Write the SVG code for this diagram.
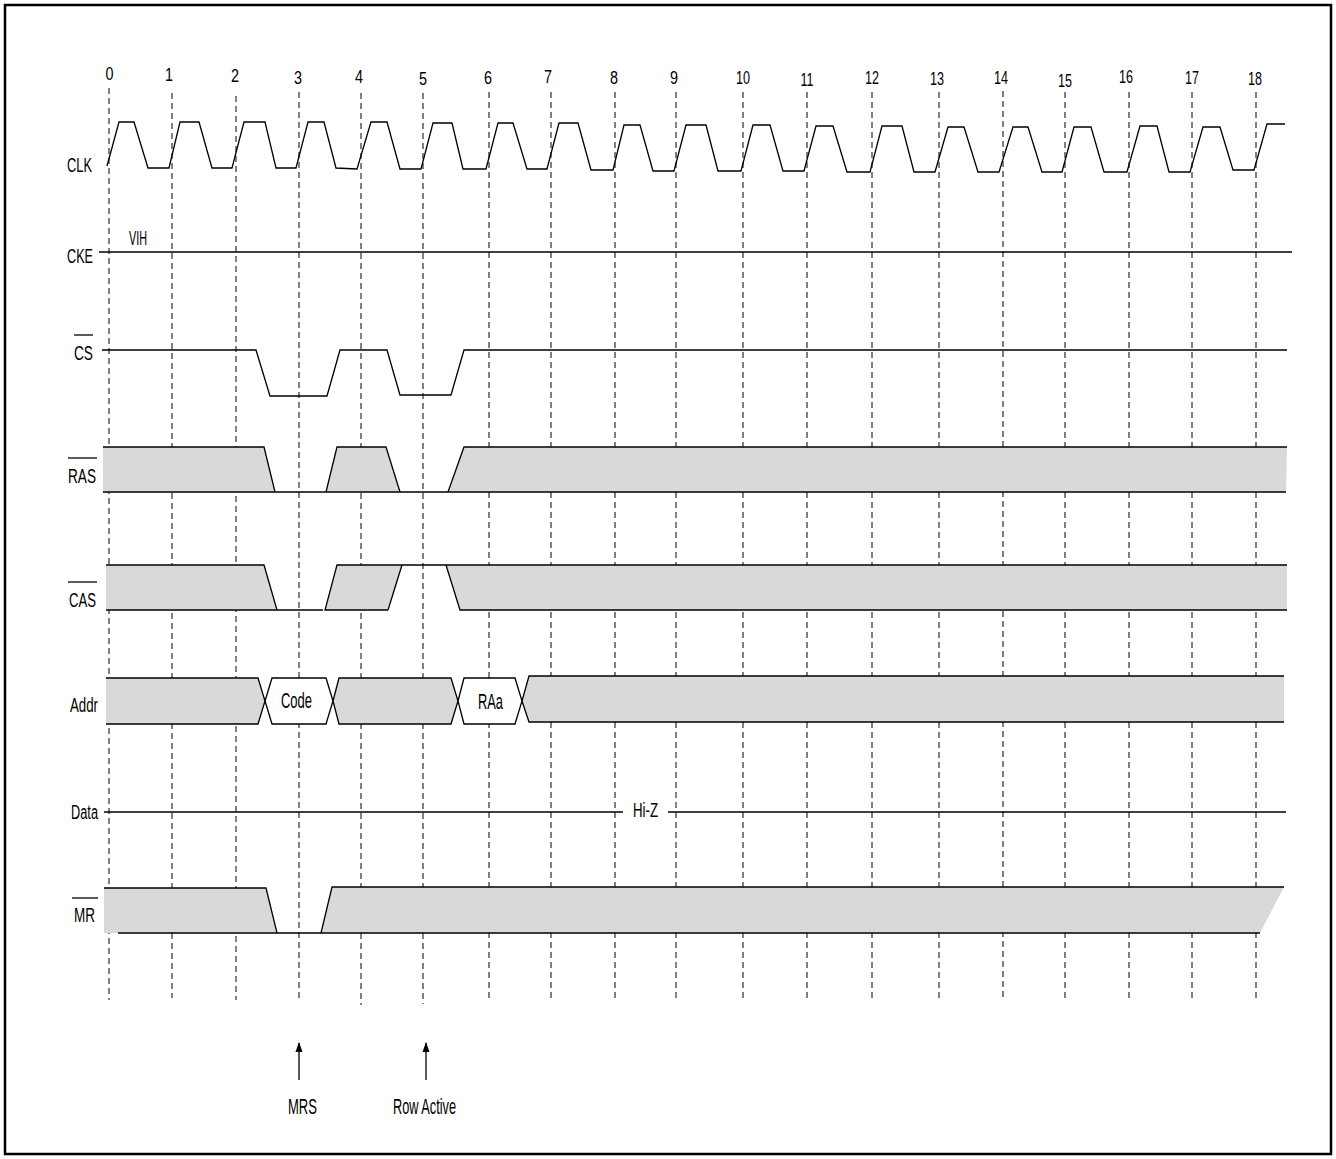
<svg xmlns="http://www.w3.org/2000/svg" width="1336" height="1159" viewBox="0 0 1336 1159">
<style>
text{font-family:"Liberation Sans",Arial,sans-serif;fill:#000}
.num{font-size:17.5px;text-anchor:middle}
.lbl{font-size:20px}
.big{font-size:21.5px}
.grid{stroke:#000;stroke-width:1;stroke-dasharray:6,4;fill:none}
.w{stroke:#000;stroke-width:1.3;fill:none}
.bus{fill:#d9d9d9;stroke:none}
.hex{fill:#fff;stroke:#000;stroke-width:1.3}
</style>
<defs>
<marker id="ah" viewBox="0 0 10 8" refX="9" refY="4" markerWidth="10" markerHeight="8" markerUnits="userSpaceOnUse" orient="auto">
<path d="M0,0.5 L10,4 L0,7.5 Z" fill="#000"/>
</marker>
</defs>
<rect x="0" y="0" width="1336" height="1159" fill="#fff"/>
<rect x="5" y="5" width="1326" height="1149" fill="none" stroke="#000" stroke-width="2.5"/>

<g id="grid">
<line class="grid" x1="109" y1="88" x2="109" y2="1000"/>
<line class="grid" x1="172" y1="93" x2="172" y2="998"/>
<line class="grid" x1="236" y1="96" x2="236" y2="1000"/>
<line class="grid" x1="299" y1="92" x2="299" y2="1002"/>
<line class="grid" x1="361" y1="93" x2="361" y2="1005"/>
<line class="grid" x1="423" y1="93" x2="423" y2="1004"/>
<line class="grid" x1="489" y1="92" x2="489" y2="1002"/>
<line class="grid" x1="551" y1="92" x2="551" y2="1000"/>
<line class="grid" x1="615" y1="92" x2="615" y2="1000"/>
<line class="grid" x1="676" y1="92" x2="676" y2="1000"/>
<line class="grid" x1="743" y1="92" x2="743" y2="1000"/>
<line class="grid" x1="807" y1="92" x2="807" y2="1000"/>
<line class="grid" x1="872" y1="92" x2="872" y2="1000"/>
<line class="grid" x1="939" y1="92" x2="939" y2="1000"/>
<line class="grid" x1="1003" y1="91" x2="1003" y2="1000"/>
<line class="grid" x1="1065" y1="92" x2="1065" y2="1000"/>
<line class="grid" x1="1129" y1="92" x2="1129" y2="1000"/>
<line class="grid" x1="1192" y1="92" x2="1192" y2="1000"/>
<line class="grid" x1="1256" y1="92" x2="1256" y2="1000"/>
</g>

<g id="cycle-numbers">
<text class="num" x="109.5" y="80" textLength="8" lengthAdjust="spacingAndGlyphs">0</text>
<text class="num" x="169" y="81" textLength="8" lengthAdjust="spacingAndGlyphs">1</text>
<text class="num" x="235" y="82" textLength="8" lengthAdjust="spacingAndGlyphs">2</text>
<text class="num" x="298" y="84" textLength="8" lengthAdjust="spacingAndGlyphs">3</text>
<text class="num" x="359" y="83" textLength="8" lengthAdjust="spacingAndGlyphs">4</text>
<text class="num" x="423" y="85" textLength="8" lengthAdjust="spacingAndGlyphs">5</text>
<text class="num" x="488" y="84" textLength="8" lengthAdjust="spacingAndGlyphs">6</text>
<text class="num" x="548" y="83" textLength="8" lengthAdjust="spacingAndGlyphs">7</text>
<text class="num" x="614" y="84" textLength="8" lengthAdjust="spacingAndGlyphs">8</text>
<text class="num" x="674" y="84" textLength="8" lengthAdjust="spacingAndGlyphs">9</text>
<text class="num" x="743" y="84" textLength="14" lengthAdjust="spacingAndGlyphs">10</text>
<text class="num" x="807" y="86" textLength="13" lengthAdjust="spacingAndGlyphs">11</text>
<text class="num" x="872" y="84" textLength="14" lengthAdjust="spacingAndGlyphs">12</text>
<text class="num" x="937" y="85" textLength="14" lengthAdjust="spacingAndGlyphs">13</text>
<text class="num" x="1001" y="84" textLength="14" lengthAdjust="spacingAndGlyphs">14</text>
<text class="num" x="1065" y="87" textLength="14" lengthAdjust="spacingAndGlyphs">15</text>
<text class="num" x="1126" y="83" textLength="14" lengthAdjust="spacingAndGlyphs">16</text>
<text class="num" x="1192" y="84" textLength="14" lengthAdjust="spacingAndGlyphs">17</text>
<text class="num" x="1255" y="85" textLength="14" lengthAdjust="spacingAndGlyphs">18</text>
</g>

<g id="clk">
<text class="lbl" x="67" y="172" textLength="25" lengthAdjust="spacingAndGlyphs">CLK</text>
<polyline class="w" points="107,166 119,122 134,122 148,168 169,168 180,122 199,122 212,168 232,168 244,122 265,122 276,168 296,168 308,122 324,122 336,168 357,169 371,122 387,122 400,169 421,169 433,123 452,123 463,169 486,169 498,123 513,123 527,169 547,169 559,123 578,123 591,170 613,170 624,125 640,125 653,171 674,171 686,125 706,125 718,171 741,171 753,125 770,125 783,171 804,171 816,126 833,126 847,172 870,172 882,126 902,126 914,172 935,172 948,127 964,127 978,172 999,172 1013,127 1028,127 1042,172 1062,172 1074,127 1091,127 1104,172 1127,172 1140,126 1157,126 1169,172 1190,172 1203,127 1220,127 1233,170 1254,170 1267,124 1285,124"/>
</g>

<g id="cke">
<text class="lbl" x="67" y="263" textLength="26" lengthAdjust="spacingAndGlyphs">CKE</text>
<text class="lbl" x="129" y="245" textLength="18" lengthAdjust="spacingAndGlyphs">VIH</text>
<line class="w" x1="99" y1="252" x2="1292" y2="252"/>
</g>

<g id="cs">
<text class="lbl" x="74" y="360" textLength="19" lengthAdjust="spacingAndGlyphs">CS</text>
<line class="w" x1="74" y1="335" x2="93" y2="335"/>
<polyline class="w" points="102,350 256,350 270,396 327,396 340,350 387,350 400,395 451,395 464,350 1287,350"/>
</g>

<g id="ras">
<text class="lbl" x="68" y="483" textLength="28" lengthAdjust="spacingAndGlyphs">RAS</text>
<line class="w" x1="68" y1="458" x2="97" y2="458"/>
<polygon class="bus" points="103,447 264,447 275,492 103,492"/>
<polygon class="bus" points="326,492 337,447 386,447 400,492"/>
<polygon class="bus" points="448,492 464,447 1287,447 1286,492"/>
<polyline class="w" points="103,447 264,447 275,492"/>
<polyline class="w" points="326,492 337,447 386,447 400,492"/>
<polyline class="w" points="448,492 464,447 1287,447"/>
<line class="w" x1="103" y1="492" x2="1286" y2="492"/>
</g>

<g id="cas">
<text class="lbl" x="69" y="607" textLength="27" lengthAdjust="spacingAndGlyphs">CAS</text>
<line class="w" x1="68" y1="582" x2="97" y2="582"/>
<polygon class="bus" points="106,565 264,565 277,610 106,610"/>
<polygon class="bus" points="325,610 337,565 402,565 388,610"/>
<polygon class="bus" points="446,565 1287,565 1287,610 460,610"/>
<polyline class="w" points="106,565 264,565 277,610"/>
<line class="w" x1="106" y1="610" x2="323" y2="610"/>
<polyline class="w" points="388,610 325,610 337,565 1287,565"/>
<line class="w" x1="402" y1="565" x2="388" y2="610"/>
<polyline class="w" points="446,565 460,610 1287,610"/>
</g>

<g id="addr">
<text class="lbl" x="70" y="712" textLength="28" lengthAdjust="spacingAndGlyphs">Addr</text>
<polygon class="bus" points="106,678 258,678 265,701 258,724 106,724"/>
<polyline class="w" points="106,678 258,678 265,701 258,724 106,724"/>
<polygon class="hex" points="265,701 272,678 326,678 333,701 326,724 272,724"/>
<polygon class="bus" points="333,701 339,678 451,678 458,701 451,724 339,724"/>
<polygon class="w" points="333,701 339,678 451,678 458,701 451,724 339,724"/>
<polygon class="hex" points="458,701 464,678 515,678 522,701 515,724 464,724"/>
<polygon class="bus" points="522,701 529,676 1284,676 1284,722 529,722"/>
<polyline class="w" points="1284,676 529,676 522,701 529,722 1284,722"/>
<text class="big" x="281" y="708" textLength="31" lengthAdjust="spacingAndGlyphs">Code</text>
<text class="big" x="478" y="709" textLength="25" lengthAdjust="spacingAndGlyphs">RAa</text>
</g>

<g id="data">
<text class="lbl" x="71" y="819" textLength="27" lengthAdjust="spacingAndGlyphs">Data</text>
<line class="w" x1="104" y1="812" x2="623" y2="812"/>
<line class="w" x1="668" y1="812" x2="1286" y2="812"/>
<text class="lbl" x="633" y="817" textLength="25" lengthAdjust="spacingAndGlyphs">Hi-Z</text>
</g>

<g id="mr">
<text class="lbl" x="74" y="922" textLength="21" lengthAdjust="spacingAndGlyphs">MR</text>
<line class="w" x1="72" y1="898" x2="98" y2="898"/>
<polygon class="bus" points="104,888 266,888 277,933 104,933"/>
<polygon class="bus" points="321,933 332,887 1284,887 1260,933"/>
<polyline class="w" points="104,888 266,888 277,933"/>
<polyline class="w" points="321,933 332,887 1284,887"/>
<line class="w" x1="118" y1="933" x2="1260" y2="933" style="stroke-width:1.6"/>
</g>

<g id="connectors">
<line class="w" x1="299" y1="1080" x2="299" y2="1043" marker-end="url(#ah)"/>
<line class="w" x1="426" y1="1080" x2="426" y2="1043" marker-end="url(#ah)"/>
</g>

<g id="events">
<text class="big" x="288" y="1114" textLength="29" lengthAdjust="spacingAndGlyphs">MRS</text>
<text class="big" x="393" y="1114" textLength="63" lengthAdjust="spacingAndGlyphs">Row Active</text>
</g>
</svg>
